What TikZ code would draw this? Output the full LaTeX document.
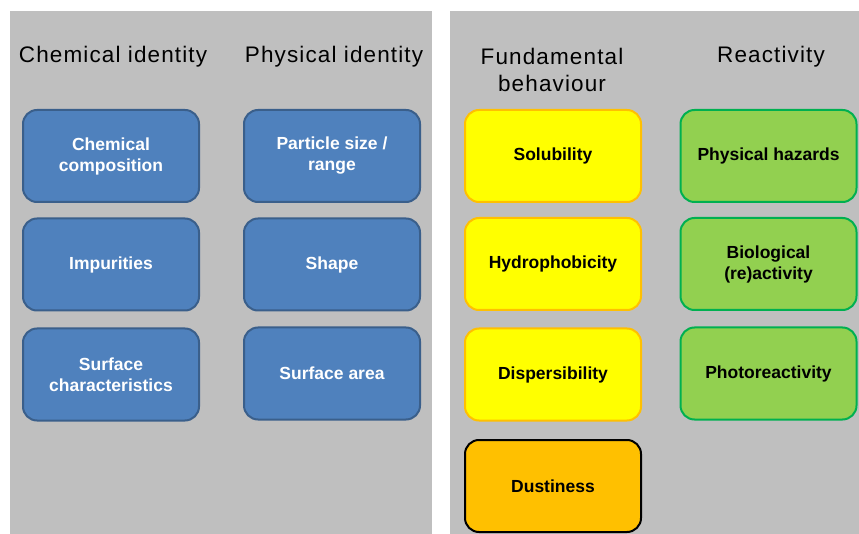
\documentclass[tikz,border=0pt]{standalone}
\usepackage{fontspec}
\setmainfont{Liberation Sans}
\newfontfamily\headfont{Liberation Sans}[LetterSpace=5]
\usetikzlibrary{shapes.geometric}
\definecolor{panelgray}{HTML}{BFBFBF}
\definecolor{boxblue}{HTML}{4F81BD}
\definecolor{lineblue}{HTML}{3A5F8B}
\definecolor{boxyellow}{HTML}{FFFF00}
\definecolor{lineorange}{HTML}{FFC000}
\definecolor{boxgreen}{HTML}{92D050}
\definecolor{linegreen}{HTML}{00B050}
\tikzstyle{panel} = [fill=panelgray,draw=none]
\tikzstyle{head} = [align=center,font=\headfont\fontsize{22.5}{27}\selectfont]
\tikzstyle{card} = [rectangle,rounded corners=14pt,minimum width=176pt,minimum height=92pt,line width=2pt,align=center,font=\fontsize{17.5}{21}\selectfont\bfseries]
\tikzstyle{chem} = [card,fill=boxblue,draw=lineblue,text=white]
\tikzstyle{fund} = [card,fill=boxyellow,draw=lineorange]
\tikzstyle{react} = [card,fill=boxgreen,draw=linegreen]

\begin{document}
\begin{tikzpicture}[x=1pt,y=-1pt]
\useasboundingbox (0,0) rectangle (859,534);
\fill[white] (0,0) rectangle (859,534);
\draw[panel] (9.5,11) rectangle (432,534);
\draw[panel] (450,11) rectangle (859,534);
% headings
\node[head] (hchem) at (113,57) {Chemical identity};
\node[head] (hphys) at (334,57) {Physical identity};
\node[head] (hfund) at (552,69.5) {Fundamental\\behaviour};
\node[head] (hreact) at (771,57) {Reactivity};
% chemical identity
\node[chem] (comp) at (111,156) {Chemical\\composition};
\node[chem] (impur) at (111,264.5) {Impurities};
\node[chem] (surfch) at (111,374.5) {Surface\\characteristics};
% physical identity
\node[chem] (size) at (332,156) {Particle size /\\range};
\node[chem] (shape) at (332,264.5) {Shape};
\node[chem] (area) at (332,373.5) {Surface area};
% fundamental behaviour
\node[fund] (solub) at (553,156) {Solubility};
\node[fund] (hydro) at (553,264) {Hydrophobicity};
\node[fund] (disp) at (553,374.5) {Dispersibility};
\node[card,fill=lineorange,draw=black] (dust) at (553,486) {Dustiness};
% reactivity
\node[react] (phys) at (768.5,156) {Physical hazards};
\node[react] (bio) at (768.5,264) {Biological\\(re)activity};
\node[react] (photo) at (768.5,373.5) {Photoreactivity};
\end{tikzpicture}
\end{document}
